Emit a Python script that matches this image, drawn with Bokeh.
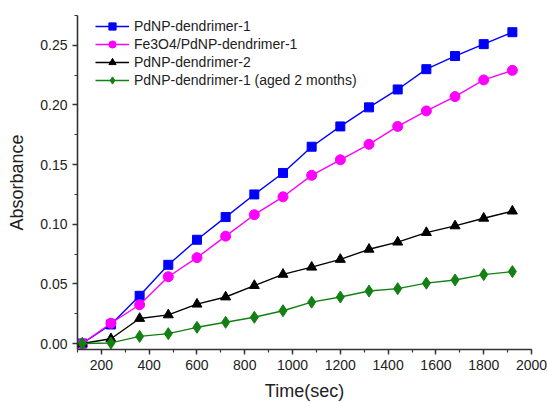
from bokeh.plotting import figure
from bokeh.models import SingleIntervalTicker, NumeralTickFormatter, Range1d, Legend, LegendItem
from bokeh.embed import file_html
from bokeh.resources import INLINE

time_sec = [120, 240, 360, 480, 600, 720, 840, 960, 1080, 1200, 1320, 1440, 1560, 1680, 1800, 1920]
pdnp_1 = [0.0, 0.016, 0.040, 0.066, 0.087, 0.106, 0.125, 0.143, 0.165, 0.182, 0.198, 0.213, 0.230, 0.241, 0.251, 0.261]
fe3o4_pdnp_1 = [0.0, 0.017, 0.0325, 0.056, 0.072, 0.090, 0.108, 0.123, 0.141, 0.154, 0.167, 0.182, 0.195, 0.207, 0.221, 0.229]
pdnp_2 = [0.0, 0.004, 0.021, 0.024, 0.033, 0.039, 0.0486, 0.058, 0.064, 0.0705, 0.079, 0.085, 0.093, 0.0986, 0.105, 0.111]
pdnp_1_aged = [0.0, 0.0005, 0.006, 0.0083, 0.0136, 0.0178, 0.022, 0.0275, 0.0347, 0.039, 0.044, 0.046, 0.0506, 0.0533, 0.0578, 0.0603]

labels = ["PdNP-dendrimer-1", "Fe3O4/PdNP-dendrimer-1", "PdNP-dendrimer-2", "PdNP-dendrimer-1 (aged 2 months)"]

FONT = "Liberation Sans"
TXT = "#222222"

p = figure(width=547, height=403, output_backend="svg", toolbar_location=None,
           x_range=Range1d(100, 2000), y_range=Range1d(-0.005, 0.275),
           min_border_left=77, min_border_right=16, min_border_top=15, min_border_bottom=53)
p.outline_line_color = None
p.grid.visible = False
p.background_fill_color = "white"
p.border_fill_color = "white"

series = [
    (pdnp_1, "#0000ff", "square", 9),
    (fe3o4_pdnp_1, "#ff00ff", "circle", 10),
    (pdnp_2, "#000000", "triangle", 10),
    (pdnp_1_aged, "#128012", "diamond", 12),
]
items = []
for (ys, col, mk, sz), lab in zip(series, labels):
    l = p.line(time_sec, ys, line_color=col, line_width=1.4)
    s = p.scatter(time_sec, ys, marker=mk, size=sz, fill_color=col, line_color=col)
    items.append(LegendItem(label=lab, renderers=[l, s]))

legend = Legend(items=items)
legend.border_line_alpha = 0
legend.background_fill_alpha = 0
legend.padding = 0
legend.margin = 0
legend.glyph_width = 34
legend.glyph_height = 18
legend.label_height = 18
legend.spacing = 0
legend.label_standoff = 5
legend.label_text_font = FONT
legend.label_text_font_size = "14px"
legend.label_text_color = TXT
legend.location = (18, 260)
p.add_layout(legend)

for ax in (p.xaxis[0], p.yaxis[0]):
    ax.axis_line_width = 1.6
    ax.axis_line_color = "#333333"
    ax.major_tick_line_color = "#333333"
    ax.minor_tick_line_color = "#333333"
    ax.major_tick_line_width = 1.4
    ax.minor_tick_line_width = 1.2
    ax.major_tick_out = 5
    ax.major_tick_in = 0
    ax.minor_tick_out = 3
    ax.minor_tick_in = 0
    ax.major_label_text_font = FONT
    ax.major_label_text_font_size = "14px"
    ax.major_label_text_color = TXT
    ax.axis_label_text_font = FONT
    ax.axis_label_text_font_size = "18px"
    ax.axis_label_text_font_style = "normal"
    ax.axis_label_text_color = TXT
    ax.major_label_standoff = 5

p.xaxis[0].ticker = SingleIntervalTicker(interval=200, num_minor_ticks=2)
p.yaxis[0].ticker = SingleIntervalTicker(interval=0.05, num_minor_ticks=2)
p.yaxis[0].formatter = NumeralTickFormatter(format="0.00")
p.xaxis[0].axis_label = "Time(sec)"
p.yaxis[0].axis_label = "Absorbance"
p.xaxis[0].axis_label_standoff = 8
p.yaxis[0].axis_label_standoff = 10

open("out.html", "w").write(file_html(p, INLINE))
